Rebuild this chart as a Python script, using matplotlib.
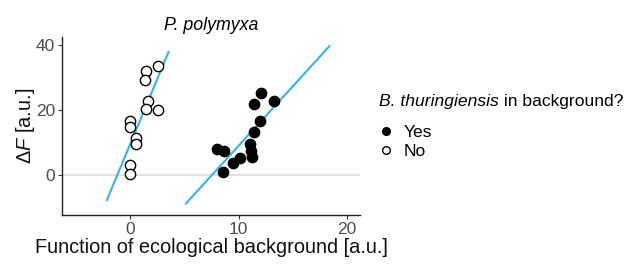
import matplotlib
matplotlib.use("Agg")
from matplotlib import pyplot as plt
from matplotlib.lines import Line2D

plt.rcParams['font.family'] = ['Liberation Sans', 'DejaVu Sans']
plt.rcParams['mathtext.fontset'] = 'custom'
plt.rcParams['mathtext.rm'] = 'Liberation Sans'
plt.rcParams['mathtext.it'] = 'Liberation Sans:italic'

# B. thuringiensis absent (open circles)
no_x = [2.6, 1.47, 1.35, 1.66, 1.47, 2.55, 0.0, 0.0, 0.52, 0.5, 0.0, 0.0]
no_y = [33.5, 32.0, 29.2, 22.7, 20.4, 20.0, 16.6, 14.9, 11.5, 9.6, 3.1, 0.4]
no_fit_x = [-2.15, 3.53]
no_fit_y = [-7.7, 37.9]

# B. thuringiensis present (filled circles)
yes_x = [12.05, 11.4, 13.27, 11.98, 11.4, 11.06, 11.15, 11.24, 7.95, 8.6, 10.1, 9.5, 8.54]
yes_y = [25.3, 21.8, 22.9, 16.6, 13.1, 9.5, 7.3, 5.5, 8.0, 7.3, 5.3, 3.8, 0.9]
yes_fit_x = [5.13, 18.37]
yes_fit_y = [-8.8, 39.7]

x_ticks = [0, 10, 20]
y_ticks = [0, 20, 40]

fig = plt.figure(figsize=(6.32, 2.66), dpi=100)
ax = fig.add_axes([0.098, 0.192, 0.472, 0.669])

ax.axhline(0, color='#dcdcdc', lw=1.2, zorder=0)
ax.plot(no_fit_x, no_fit_y, color='#33b5ea', lw=1.5, zorder=1)
ax.plot(yes_fit_x, yes_fit_y, color='#33b5ea', lw=1.5, zorder=1)
ax.scatter(no_x, no_y, s=55, facecolors='white', edgecolors='black', linewidths=1.0, zorder=2)
ax.scatter(yes_x, yes_y, s=55, facecolors='black', edgecolors='black', linewidths=1.0, zorder=2)

ax.set_xlim(-6.3, 21.2)
ax.set_ylim(-12.3, 42.5)
ax.set_xticks(x_ticks)
ax.set_yticks(y_ticks)
for s in ['top', 'right']:
    ax.spines[s].set_visible(False)
for s in ['left', 'bottom']:
    ax.spines[s].set_color('#222222')
    ax.spines[s].set_linewidth(1.0)
ax.tick_params(colors='#333333', labelcolor='#4d4d4d', labelsize=12.5, length=3, width=0.8, pad=2)

ax.set_xlabel("Function of ecological background [a.u.]", fontsize=14.4, color='#111111', labelpad=1)
ax.set_ylabel(r"$\Delta\it{F}$ [a.u.]", fontsize=14.4, color='#111111', labelpad=-1)
ax.set_title("P. polymyxa", fontsize=12.8, fontstyle='italic', pad=5)

# legend title: italic species name followed by plain text
t1 = fig.text(0.6, 0.603, "B. thuringiensis", fontsize=12.6, fontstyle='italic', va='baseline')
fig.canvas.draw()
bb = t1.get_window_extent(renderer=fig.canvas.get_renderer()).transformed(fig.transFigure.inverted())
fig.text(bb.x1, 0.603, " in background?", fontsize=12.6, va='baseline')

handles = [
    Line2D([], [], marker='o', ls='none', markersize=5.5, markerfacecolor='black', markeredgecolor='black', label='Yes'),
    Line2D([], [], marker='o', ls='none', markersize=5.5, markerfacecolor='white', markeredgecolor='black', label='No'),
]
fig.legend(handles=handles, loc='upper left', bbox_to_anchor=(0.6, 0.532),
           fontsize=12.5, frameon=False, handletextpad=0.6, labelspacing=0.25,
           handlelength=0.8, borderaxespad=0, borderpad=0)

fig.savefig("out.png", dpi=100)
